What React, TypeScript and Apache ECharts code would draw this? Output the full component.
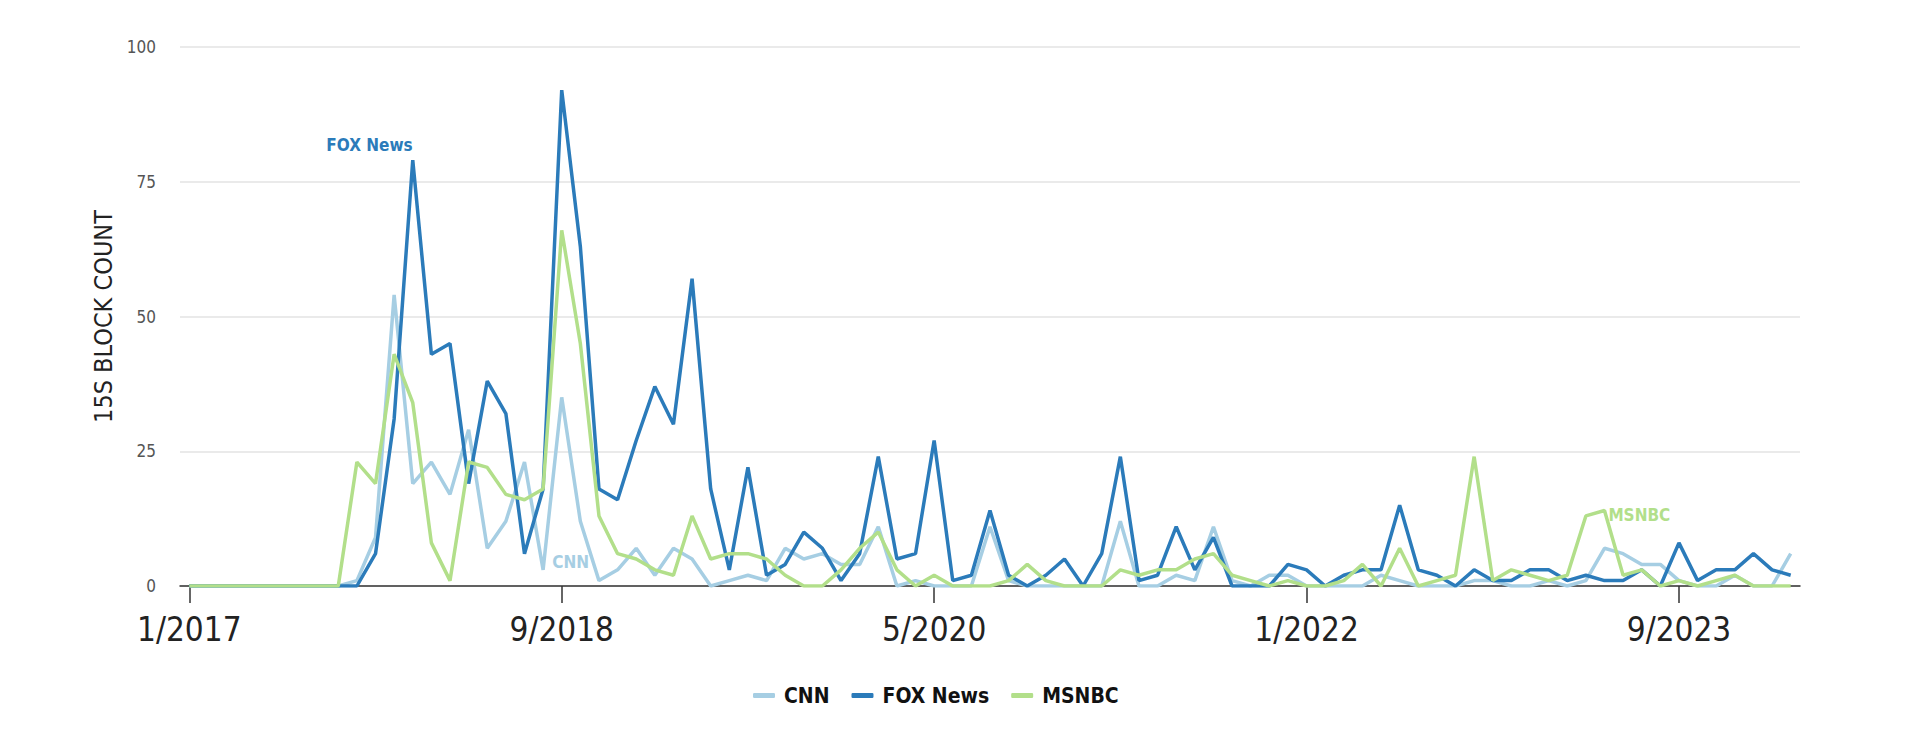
import React, { useEffect, useRef } from "react";
import * as echarts from "echarts";

const startYear = 2017;
const monthCount = 87;
const months: string[] = [];
for (let i = 0; i < monthCount; i++) {
  months.push(`${(i % 12) + 1}/${startYear + Math.floor(i / 12)}`);
}

const tickLabels = ["1/2017", "9/2018", "5/2020", "1/2022", "9/2023"];

const cnn = [
  0, 0, 0, 0, 0, 0, 0, 0, 0, 1,
  9, 54, 19, 23, 17, 29, 7, 12, 23, 3,
  35, 12, 1, 3, 7, 2, 7, 5, 0, 1,
  2, 1, 7, 5, 6, 4, 4, 11, 0, 1,
  0, 0, 0, 11, 1, 0, 0, 0, 0, 0,
  12, 0, 0, 2, 1, 11, 1, 0, 2, 2,
  0, 0, 0, 0, 2, 1, 0, 0, 0, 1,
  1, 0, 0, 1, 0, 1, 7, 6, 4, 4,
  1, 0, 0, 2, 0, 0, 6,
];

const fox = [
  0, 0, 0, 0, 0, 0, 0, 0, 0, 0,
  6, 31, 79, 43, 45, 19, 38, 32, 6, 18,
  92, 63, 18, 16, 27, 37, 30, 57, 18, 3,
  22, 2, 4, 10, 7, 1, 6, 24, 5, 6,
  27, 1, 2, 14, 2, 0, 2, 5, 0, 6,
  24, 1, 2, 11, 3, 9, 0, 0, 0, 4,
  3, 0, 2, 3, 3, 15, 3, 2, 0, 3,
  1, 1, 3, 3, 1, 2, 1, 1, 3, 0,
  8, 1, 3, 3, 6, 3, 2,
];

const msnbc = [
  0, 0, 0, 0, 0, 0, 0, 0, 0, 23,
  19, 43, 34, 8, 1, 23, 22, 17, 16, 18,
  66, 45, 13, 6, 5, 3, 2, 13, 5, 6,
  6, 5, 2, 0, 0, 3, 7, 10, 3, 0,
  2, 0, 0, 0, 1, 4, 1, 0, 0, 0,
  3, 2, 3, 3, 5, 6, 2, 1, 0, 1,
  0, 0, 1, 4, 0, 7, 0, 1, 2, 24,
  1, 3, 2, 1, 2, 13, 14, 2, 3, 0,
  1, 0, 1, 2, 0, 0, 0,
];

const COLORS = { CNN: "#a6cee3", FOX: "#2b7bba", MSNBC: "#b2df8a" };
const FONT = "'Liberation Sans Narrow', 'DejaVu Sans Condensed', 'Roboto', sans-serif";

const isTick = (i: number) => tickLabels.indexOf(months[i]) >= 0;

function labelPoint(text: string, color: string, coord: [string, number], offset: [number, number]) {
  return {
    silent: true,
    symbol: "circle",
    symbolSize: 0,
    label: {
      show: true,
      position: "inside",
      formatter: text,
      color,
      fontFamily: FONT,
      fontSize: 17,
      fontWeight: "bold",
      offset,
    },
    data: [{ coord }],
  };
}

export default function App() {
  const ref = useRef<HTMLDivElement>(null);
  useEffect(() => {
    if (!ref.current) return;
    const chart = echarts.init(ref.current, undefined, { renderer: "svg" });
    chart.setOption({
      animation: false,
      backgroundColor: "#ffffff",
      grid: { left: 180, right: 120, top: 47, bottom: 154 },
      legend: {
        left: 748,
        top: 680,
        itemWidth: 22,
        itemHeight: 5,
        itemGap: 22,
        icon: "roundRect",
        textStyle: {
          fontFamily: FONT,
          fontSize: 21,
          fontWeight: "bold",
          color: "#111",
          padding: [0, 0, 0, 4],
        },
        data: ["CNN", "FOX News", "MSNBC"],
      },
      xAxis: {
        type: "category",
        data: months,
        boundaryGap: true,
        axisLine: { show: true, lineStyle: { color: "#333", width: 1.5 } },
        axisTick: {
          show: true,
          alignWithLabel: true,
          interval: (i: number) => isTick(i),
          length: 17,
          lineStyle: { color: "#333", width: 1.5 },
        },
        axisLabel: {
          interval: (i: number) => isTick(i),
          fontFamily: FONT,
          fontSize: 33,
          color: "#222",
          margin: 27,
        },
        splitLine: { show: false },
      },
      yAxis: {
        type: "value",
        min: 0,
        max: 100,
        interval: 25,
        name: "15S BLOCK COUNT",
        nameLocation: "middle",
        nameGap: 62,
        nameTextStyle: { fontFamily: FONT, fontSize: 25, color: "#222" },
        axisLine: { show: false },
        axisTick: { show: false },
        axisLabel: { fontFamily: FONT, fontSize: 17, color: "#555", margin: 24 },
        splitLine: { lineStyle: { color: "#e3e3e3", width: 1.5 } },
      },
      series: [
        {
          name: "CNN",
          type: "line",
          data: cnn,
          symbol: "none",
          lineStyle: { width: 3.5, color: COLORS.CNN },
          itemStyle: { color: COLORS.CNN },
          markPoint: labelPoint("CNN", COLORS.CNN, [months[20], 4.5], [9, 0]),
        },
        {
          name: "FOX News",
          type: "line",
          data: fox,
          symbol: "none",
          lineStyle: { width: 3.5, color: COLORS.FOX },
          itemStyle: { color: COLORS.FOX },
          markPoint: labelPoint("FOX News", COLORS.FOX, [months[10], 81.9], [-6, 0]),
        },
        {
          name: "MSNBC",
          type: "line",
          data: msnbc,
          symbol: "none",
          lineStyle: { width: 3.5, color: COLORS.MSNBC },
          itemStyle: { color: COLORS.MSNBC },
          markPoint: labelPoint("MSNBC", COLORS.MSNBC, [months[79], 13.2], [-21, 0]),
        },
      ],
    });
    return () => chart.dispose();
  }, []);
  return (
    <div
      ref={ref}
      style={{ position: "fixed", left: 0, top: 0, width: 1920, height: 740 }}
    />
  );
}
